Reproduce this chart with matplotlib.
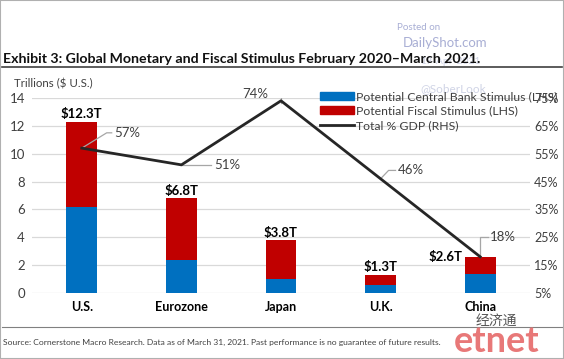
import matplotlib
matplotlib.use("Agg")
import matplotlib.pyplot as plt
from matplotlib.patches import Rectangle
from matplotlib.lines import Line2D

plt.rcParams['font.family'] = ['Lato', 'Noto Sans CJK SC', 'DejaVu Sans']

categories = ["U.S.", "Eurozone", "Japan", "U.K.", "China"]
central_bank = [6.15, 2.35, 1.0, 0.55, 1.4]
fiscal = [6.15, 4.45, 2.8, 0.75, 1.2]
totals = [12.3, 6.8, 3.8, 1.3, 2.6]
total_labels = ["$12.3T", "$6.8T", "$3.8T", "$1.3T", "$2.6T"]
gdp_pct = [57, 51, 74, 46, 18]
left_ticks = [0, 2, 4, 6, 8, 10, 12, 14]
right_ticks = [5, 15, 25, 35, 45, 55, 65, 75]

BLUE = "#0070C0"
RED = "#C00000"
LINE = "#262626"
GRID = "#D9D9D9"
TXT = "#404040"

fig = plt.figure(figsize=(5.64, 3.59), dpi=100)
W, H = 564, 359

def fx(px): return px / W
def fy(py): return 1 - py / H

ax = fig.add_axes([fx(32), fy(293), fx(530) - fx(32), fy(98) - fy(293)])
x = list(range(len(categories)))
bw = 0.31
ax.bar(x, central_bank, bw, color=BLUE, zorder=3)
ax.bar(x, fiscal, bw, bottom=central_bank, color=RED, zorder=3)
ax.set_xlim(-0.5, 4.5)
ax.set_ylim(0, 14)
ax.set_yticks(left_ticks)
ax.set_xticks(x)
ax.set_xticklabels(categories, fontsize=9, color="black", fontweight="bold")
ax.tick_params(axis='x', length=0, pad=6)
ax.tick_params(axis='y', length=0, labelsize=9.5, labelcolor=TXT, pad=5)
ax.grid(axis='y', color=GRID, lw=0.9, zorder=0)
for s in ax.spines.values():
    s.set_visible(False)

for i, (t, lab) in enumerate(zip(totals, total_labels)):
    if i == 4:
        ax.text(i - bw / 2 - 0.02, t, lab, ha='right', va='center', fontsize=9.5,
                fontweight='bold', color='black', zorder=5)
    else:
        ax.text(i, t + 0.1, lab, ha='center', va='bottom', fontsize=9.5,
                fontweight='bold', color='black', zorder=5)

ax2 = ax.twinx()
ax2.set_ylim(5, 75)
ax2.set_yticks(right_ticks)
ax2.set_yticklabels([f"{v}%" for v in right_ticks])
ax2.tick_params(axis='y', length=0, labelsize=9, labelcolor=TXT, pad=3)
for s in ax2.spines.values():
    s.set_visible(False)
ax2.plot(x, gdp_pct, color=LINE, lw=2, zorder=4)

# data labels with leader lines (offsets in data units)
lc = "#A6A6A6"
ax2.plot([0, 0.25, 0.30], [gdp_pct[0], gdp_pct[0] + 5.5, gdp_pct[0] + 5.5], color=lc, lw=0.9)
ax2.text(0.33, gdp_pct[0] + 5.5, f"{gdp_pct[0]}%", ha='left', va='center', fontsize=9.5, color=TXT)
ax2.plot([1, 1.3], [gdp_pct[1], gdp_pct[1]], color=lc, lw=0.9)
ax2.text(1.33, gdp_pct[1], f"{gdp_pct[1]}%", ha='left', va='center', fontsize=9.5, color=TXT)
ax2.plot([2, 2, 1.9], [gdp_pct[2] - 0.8, gdp_pct[2] + 2.5, gdp_pct[2] + 2.5], color=lc, lw=0.9)
ax2.text(1.87, gdp_pct[2] + 2.5, f"{gdp_pct[2]}%", ha='right', va='center', fontsize=9.5, color=TXT)
ax2.plot([3, 3.08, 3.15], [gdp_pct[3], gdp_pct[3] + 3, gdp_pct[3] + 3], color=lc, lw=0.9)
ax2.text(3.17, gdp_pct[3] + 3, f"{gdp_pct[3]}%", ha='left', va='center', fontsize=9.5, color=TXT)
ax2.plot([4, 4, 4.08], [gdp_pct[4], gdp_pct[4] + 7.2, gdp_pct[4] + 7.2], color=lc, lw=0.9)
ax2.text(4.1, gdp_pct[4] + 7.2, f"{gdp_pct[4]}%", ha='left', va='center', fontsize=9.5, color=TXT)

handles = [Rectangle((0, 0), 1, 1, color=BLUE), Rectangle((0, 0), 1, 1, color=RED),
           Line2D([0], [0], color=LINE, lw=2)]
labels = ["Potential Central Bank Stimulus (LHS)", "Potential Fiscal Stimulus (LHS)", "Total % GDP (RHS)"]
leg = fig.legend(handles, labels, loc='upper left', bbox_to_anchor=(fx(320), fy(91)),
                 frameon=False, fontsize=8.8, handlelength=2.8, handleheight=0.6,
                 labelspacing=0.3, handletextpad=0.15, borderpad=0, borderaxespad=0)
for t in leg.get_texts():
    t.set_color(TXT)

# Title and texts
fig.text(fx(3), fy(59), "Exhibit 3: Global Monetary and Fiscal Stimulus February 2020\u2013March 2021.",
         fontsize=10.2, fontweight='bold', color='#111111', ha='left', va='center')
fig.add_artist(Line2D([fx(2), fx(562)], [fy(67), fy(67)], color='#404040', lw=1.2))
fig.text(fx(14), fy(84), "Trillions ($ U.S.)", fontsize=8.3, color=TXT, ha='left', va='center')
fig.add_artist(Line2D([fx(2), fx(562)], [fy(327), fy(327)], color='#808080', lw=0.8))
fig.text(fx(3), fy(342), "Source: Cornerstone Macro Research. Data as of March 31, 2021. Past performance is no guarantee of future results.",
         fontsize=6.1, color=TXT, ha='left', va='center')

# watermarks
fig.text(fx(419), fy(27), "Posted on", fontsize=7, color='#A8AED4', ha='center', va='center')
fig.text(fx(445), fy(43), "DailyShot.com", fontsize=9.5, color='#A8AED4', ha='center', va='center')
fig.text(fx(450), fy(62), "19-Apr-2021", fontsize=7.5, color='#D0D4E6', ha='center', va='center', zorder=0)
fig.text(fx(453), fy(89), "@SoberLook", fontsize=8.5, color='#D0D4E6', ha='center', va='center', zorder=0)
fig.text(fx(496), fy(320), "经济通", fontsize=10, color='#555555', ha='center', va='center')
fig.text(fx(497), fy(342), "etnet", fontsize=26, fontweight='bold', color='#E87878', ha='center', va='center')

# border
fig.add_artist(Rectangle((0, 0), 1, 1, transform=fig.transFigure, fill=False,
                         edgecolor='#B0B0B0', lw=1.5))

fig.savefig("out.png", dpi=100)
